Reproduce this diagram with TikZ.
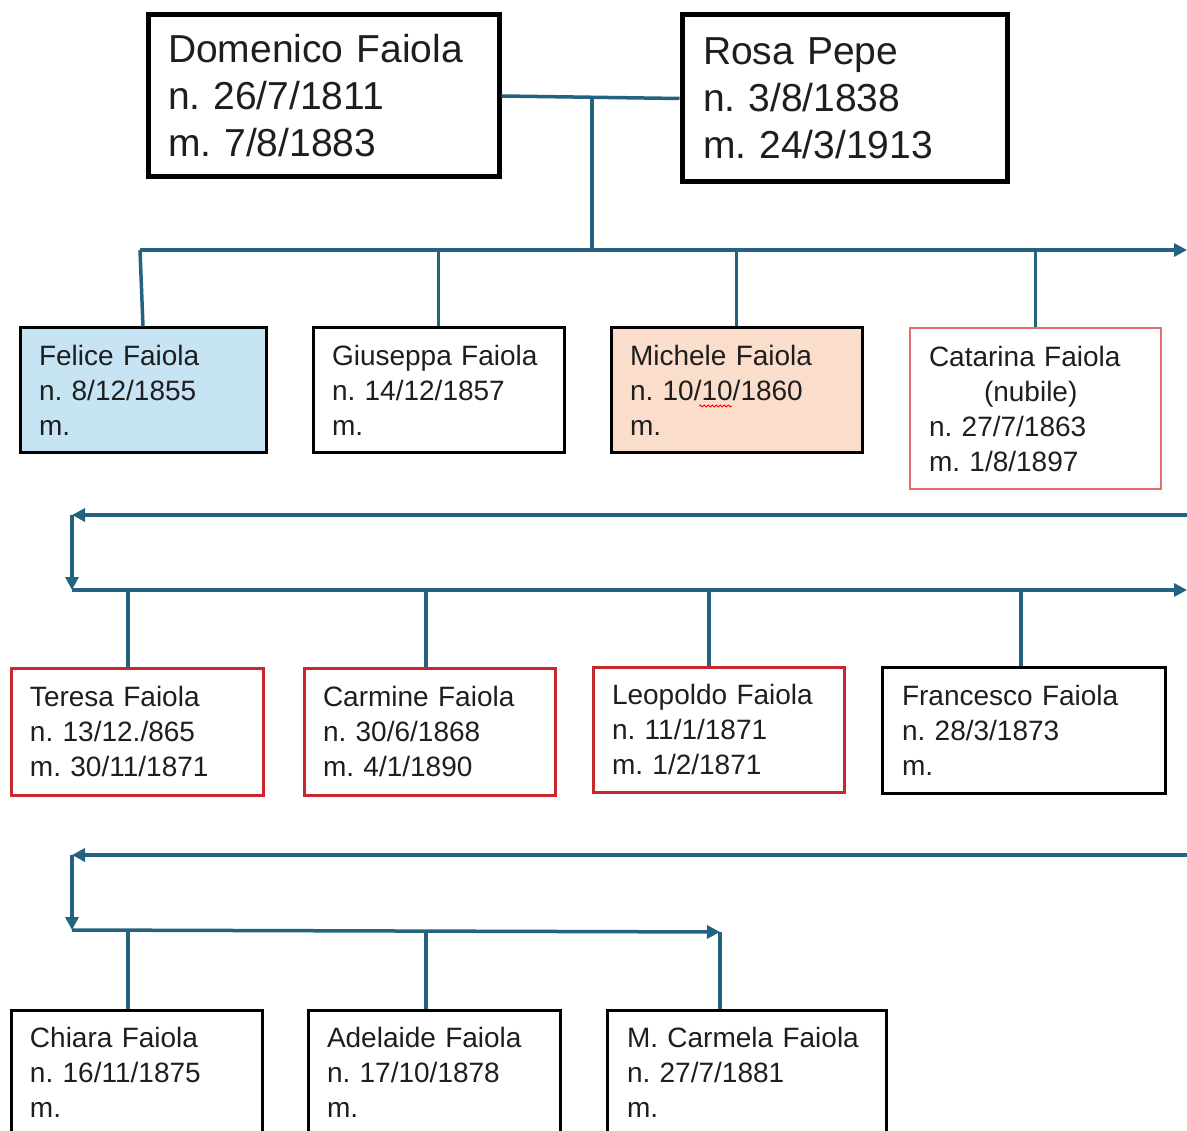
\documentclass[tikz,border=0pt]{standalone}
\usepackage{fontspec}
\setmainfont{Liberation Sans}
\usetikzlibrary{arrows.meta,decorations.pathmorphing}
\frenchspacing
\definecolor{conncol}{RGB}{35,98,128}
\definecolor{txtcol}{RGB}{30,30,30}
\definecolor{blue1}{RGB}{198,228,243}
\definecolor{peach}{RGB}{251,221,203}
\definecolor{pinkred}{RGB}{226,110,110}
\definecolor{darkred}{RGB}{200,40,45}
\tikzset{
  conn/.style={draw=conncol, line width=3.5pt},
  arr/.style={-{Triangle[length=13pt,width=13pt]}},
  topbox/.style={draw=black, line width=5pt, align=left, inner xsep=0pt, text=txtcol,
    font=\fontsize{39}{47}\selectfont},
  kid/.style={draw=black, line width=3pt, align=left, inner xsep=0pt, text=txtcol,
    font=\fontsize{28}{35}\selectfont},
  redkid/.style={kid, draw=darkred},
}
\begin{document}
\begin{tikzpicture}[x=1pt,y=-1pt]
\useasboundingbox (0,0) rectangle (1187,1131);
% parents
\node[topbox, minimum width=351pt, minimum height=162pt, text width=311pt] (dom) at (323.5,96) {Domenico Faiola\\n. 26/7/1811\\m. 7/8/1883};
\node[topbox, minimum width=325pt, minimum height=167pt, text width=283pt] (rosa) at (844.5,98.5) {Rosa Pepe\\n. 3/8/1838\\m. 24/3/1913};
% row 1
\node[kid, fill=blue1, minimum width=246pt, minimum height=125pt, text width=208pt] (felice) at (143,390.5) {Felice Faiola\\n. 8/12/1855\\m.};
\node[kid, minimum width=251pt, minimum height=125pt, text width=213pt] (giuseppa) at (438.5,390.5) {Giuseppa Faiola\\n. 14/12/1857\\m.};
\node[kid, fill=peach, minimum width=251pt, minimum height=125pt, text width=213pt] (michele) at (736.5,390.5) {Michele Faiola\\n. 10/10/1860\\m.};
\node[kid, draw=pinkred, line width=2.5pt, minimum width=251pt, minimum height=161pt, text width=213pt] (catarina) at (1035.5,408.5) {Catarina Faiola\\\hspace*{55pt}(nubile)\\n. 27/7/1863\\m. 1/8/1897};
% row 2
\node[redkid, minimum width=252pt, minimum height=127pt, text width=214pt] (teresa) at (137,731.5) {Teresa Faiola\\n. 13/12./865\\m. 30/11/1871};
\node[redkid, minimum width=251pt, minimum height=127pt, text width=213pt] (carmine) at (429.5,731.5) {Carmine Faiola\\n. 30/6/1868\\m. 4/1/1890};
\node[redkid, minimum width=251pt, minimum height=125pt, text width=213pt] (leopoldo) at (718.5,729.5) {Leopoldo Faiola\\n. 11/1/1871\\m. 1/2/1871};
\node[kid, minimum width=283pt, minimum height=126pt, text width=243pt] (francesco) at (1023.5,730) {Francesco Faiola\\n. 28/3/1873\\m.};
% row 3
\node[kid, minimum width=251pt, minimum height=124pt, text width=213pt] (chiara) at (136.5,1072) {Chiara Faiola\\n. 16/11/1875\\m.};
\node[kid, minimum width=252pt, minimum height=124pt, text width=214pt] (adelaide) at (434,1072) {Adelaide Faiola\\n. 17/10/1878\\m.};
\node[kid, minimum width=279pt, minimum height=124pt, text width=239pt] (mcarmela) at (746.5,1072) {M. Carmela Faiola\\n. 27/7/1881\\m.};
% spell-check squiggle
\draw[red, line width=0.8pt, decorate, decoration={snake, amplitude=1pt, segment length=4pt}] (699,406) -- (732,406);
% connectors, level 1
\coordinate (j0) at (592,97);
\coordinate (b1m) at (592,250);
\coordinate (b1l) at (140,250);
\coordinate (b1r) at (1187,250);
\draw[conn] (dom.east) -- (rosa.west);
\draw[conn] (j0) -- (b1m);
\draw[conn, arr] (b1l) -- (b1r);
\draw[conn] (b1l) -- (felice.north);
\draw[conn] (giuseppa.north |- b1l) -- (giuseppa.north);
\draw[conn] (michele.north |- b1l) -- (michele.north);
\draw[conn] (catarina.north |- b1l) -- (catarina.north);
% level 2
\coordinate (r2a) at (1187,515);
\coordinate (l2a) at (72,515);
\coordinate (l2b) at (72,590);
\coordinate (r2b) at (1187,590);
\draw[conn, arr] (r2a) -- (l2a);
\draw[conn, arr] (l2a) -- (l2b);
\draw[conn, arr] (l2b) -- (r2b);
\coordinate (t1) at (128,590);
\coordinate (t2) at (426,590);
\coordinate (t3) at (709,590);
\coordinate (t4) at (1021,590);
\draw[conn] (t1) -- (t1 |- teresa.north);
\draw[conn] (t2) -- (t2 |- carmine.north);
\draw[conn] (t3) -- (t3 |- leopoldo.north);
\draw[conn] (t4) -- (t4 |- francesco.north);
% level 3
\coordinate (r3a) at (1187,855);
\coordinate (l3a) at (72,855);
\coordinate (l3b) at (72,930);
\coordinate (e3) at (720,932);
\draw[conn, arr] (r3a) -- (l3a);
\draw[conn, arr] (l3a) -- (l3b);
\draw[conn, arr] (l3b) -- (e3);
\coordinate (u1) at (128,930);
\coordinate (u2) at (426,930);
\draw[conn] (u1) -- (u1 |- chiara.north);
\draw[conn] (u2) -- (u2 |- adelaide.north);
\draw[conn] (e3) -- (e3 |- mcarmela.north);
\end{tikzpicture}
\end{document}
